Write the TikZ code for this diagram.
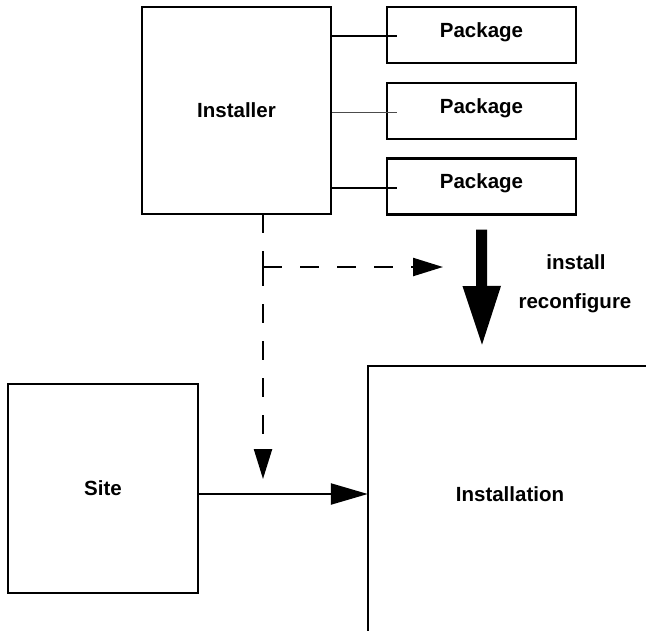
\documentclass[tikz,border=0pt]{standalone}
\usepackage{fontspec}
\setmainfont{Liberation Sans}
\usetikzlibrary{arrows.meta}
\begin{document}
\begin{tikzpicture}[x=1pt,y=-1pt,
  box/.style={draw,line width=2.3pt,inner sep=0pt,font=\fontsize{20.5}{24}\selectfont\bfseries},
  pkg/.style={box,minimum width=189pt,minimum height=56pt,text depth=10pt},
  lbl/.style={inner sep=0pt,font=\fontsize{20.5}{24}\selectfont\bfseries},
  conn/.style={line width=2.3pt},
  dashln/.style={line width=2.3pt,dash pattern=on 19pt off 18pt},
  head/.style={-{Triangle[length=30pt,width=18pt]}},
  bigarrow/.style={line width=11pt,-{Triangle[length=61pt,width=35pt]}}]
\useasboundingbox (0,0) rectangle (646,630);
\node[box,minimum width=189pt,minimum height=207pt] (inst) at (236.5,110.5) {Installer};
\node[pkg] (p1) at (481.5,35) {Package};
\node[pkg] (p2) at (481.5,111) {Package};
\node[pkg] (p3) at (481.5,186.5) {Package};
\node[box,minimum width=190pt,minimum height=209pt] (site) at (103,488.5) {Site};
\node[lbl,minimum width=284pt,minimum height=256pt] (ins) at (510,494) {Installation};
\draw[line width=2.3pt] (ins.north west) ++(0,270) -- (ins.north west) -- ++(290,0);
\node[lbl] (l1) at (576,262) {install};
\node[lbl] (l2) at (575,303) {reconfigure};
% connectors installer to packages
\draw[conn] (inst.east |- 0,36) -- ([xshift=11pt]p1.west |- 0,36);
\draw[line width=1pt,black!70] (inst.east |- 0,112) -- ([xshift=11pt]p2.west |- 0,112);
\draw[conn] (inst.east |- 0,188) -- ([xshift=11pt]p3.west |- 0,188);
% dashed
\coordinate (d0) at (263,214);
\coordinate (d1) at (263,267);
\coordinate (dh) at (443,267);
\coordinate (dv) at (263,479);
\draw[dashln] (d0) -- (d1);
\draw[dashln,head] (d1) -- (dh);
\draw[dashln,head] (d1) -- (dv);
% site to installation
\draw[conn,-{Triangle[length=37pt,width=21pt]}] (site.east |- ins.west) -- (ins.west);
% big arrow
\coordinate (bt) at (482,347);
\draw[bigarrow] ([yshift=-14pt]p3.south) -- (bt);
\end{tikzpicture}
\end{document}
